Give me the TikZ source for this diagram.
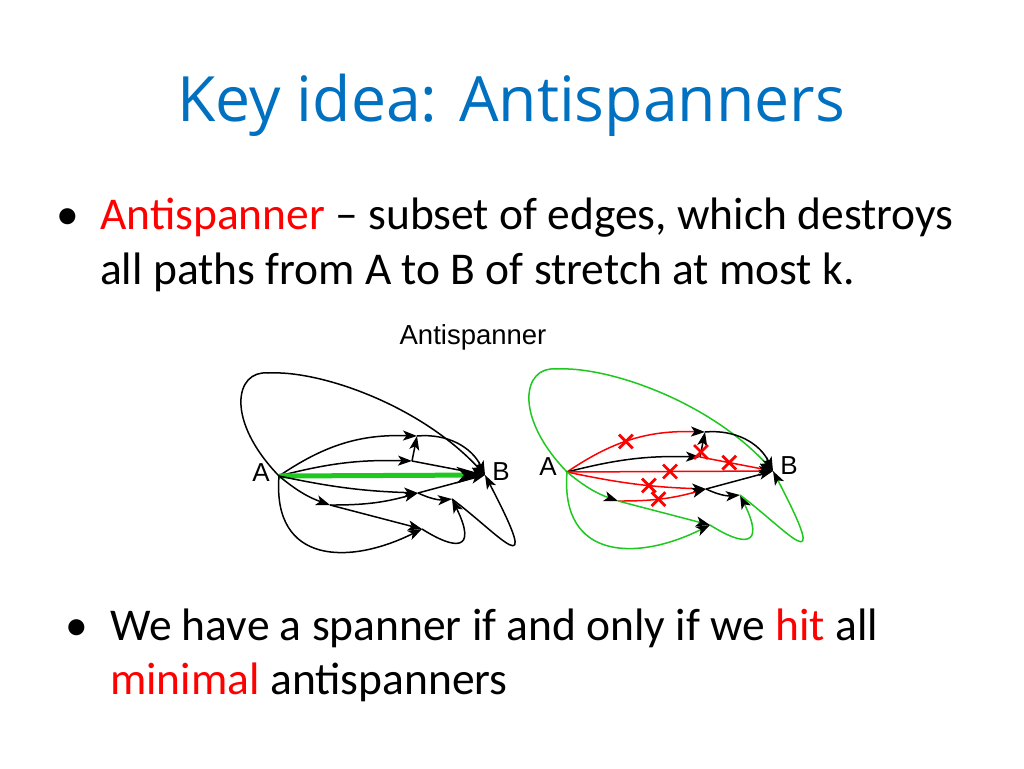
\documentclass[tikz,border=0pt]{standalone}
\usepackage{fontspec}
\setmainfont{Carlito}
\newfontfamily\titlefont{Open Sans}
\newfontfamily\graphfont{Liberation Sans}
\usetikzlibrary{arrows.meta, positioning, shapes.misc}
\definecolor{titleblue}{RGB}{0,112,192}
\definecolor{cutred}{RGB}{255,0,0}
\definecolor{pathgreen}{RGB}{30,200,30}
\newcommand*{\bodysize}{\fontsize{45.5}{55}\selectfont}

\begin{document}
\begin{tikzpicture}[x=1pt,y=-1pt,
      link/.style={line width=1.5pt, -{Stealth[color=black,length=14pt,width=10pt,inset=3.5pt]}},
      cutlink/.style={link, draw=cutred},
      keptlink/.style={link, draw=pathgreen},
      cutmark/.style={cross out, draw=cutred, line width=2.8pt, minimum size=11pt, inner sep=0pt},
      vlabel/.style={font=\graphfont\fontsize{26}{26}\selectfont},
      textline/.style={anchor=base west, inner sep=0pt, font=\bodysize}]
      \useasboundingbox (0,0) rectangle (1024,768);

      % slide text
      \node[anchor=base, inner sep=0pt, text=titleblue, font=\titlefont\fontsize{62.5}{70}\selectfont]
        (title) at (511,121) {Key idea: Antispanners};
      \node[anchor=base, inner sep=0pt, font=\bodysize] (dot1) at (68,229) {•};
      \node[textline] (line1) at (100,229) {\textcolor{cutred}{Antispanner} – subset of edges, which destroys};
      \node[textline] (line2) at (100,284) {all paths from A to B of stretch at most k.};
      \node[anchor=base, inner sep=0pt, font=\bodysize] (dot2) at (77,640) {•};
      \node[textline] (line3) at (110,640) {We have a spanner if and only if we \textcolor{cutred}{hit} all};
      \node[textline] (line4) at (110,694) {\textcolor{cutred}{minimal} antispanners};
      \node[anchor=base, inner sep=0pt, font=\graphfont\fontsize{27.5}{28}\selectfont]
        (caption) at (473,344) {Antispanner};

      % left graph
      \coordinate (A) at (279,476);
      \coordinate (B) at (485,475);
      \coordinate (P1) at (417,436);
      \coordinate (P2) at (412,461);
      \coordinate (P3) at (418,493);
      \coordinate (P4) at (330,505);
      \coordinate (P5) at (452,499);
      \coordinate (P6) at (422,529);
      \node[vlabel] (labA) at (261,473) {A};
      \node[vlabel] (labB) at (501,472) {B};
      \draw[link] (A) .. controls (225,420) and (235,370) .. (268,373)
        .. controls (320,370) and (420,405) .. (B);
      \draw[link] (A) to[bend left=18] (P1);
      \draw[link] (P1) to[bend left=35] (B);
      \draw[link] (A) to[bend left=8] (P2);
      \draw[link] (P2) -- (P1);
      \draw[link] (P2) -- (B);
      \draw[line width=5pt, pathgreen, -{Stealth[color=black,length=28pt,width=16pt,inset=7pt]}] (A) -- (B);
      \draw[link] (A) to[bend right=5] (P3);
      \draw[link] (P3) -- (B);
      \draw[link] (P3) to[bend right=15] (P5);
      \draw[link] (A) to[bend right=10] (P4);
      \draw[link] (P4) to[bend right=8] (P3);
      \draw[link] (P4) -- (P6);
      \draw[link] (A) .. controls (272,565) and (350,565) .. (P6);
      \draw[link] (P6) .. controls (455,550) and (478,552) .. (P5);
      \draw[link] (P5) .. controls (500,535) and (545,590) .. (B);

      % right graph
      \begin{scope}[shift={(288,-4)}]
        \coordinate (rA) at (279,476);
        \coordinate (rB) at (485,475);
        \coordinate (rP1) at (417,436);
        \coordinate (rP2) at (412,461);
        \coordinate (rP3) at (418,493);
        \coordinate (rP4) at (330,505);
        \coordinate (rP5) at (452,499);
        \coordinate (rP6) at (422,529);
        \node[vlabel] (rlabA) at (260,471) {A};
        \node[vlabel] (rlabB) at (501,470) {B};
        \draw[keptlink] (rA) .. controls (225,420) and (235,370) .. (268,373)
          .. controls (320,370) and (420,405) .. (rB);
        \draw[cutlink] (rA) to[bend left=18] node[cutmark, pos=0.45] (rx1) {} (rP1);
        \draw[link] (rP1) to[bend left=35] (rB);
        \draw[link] (rA) to[bend left=8] (rP2);
        \draw[link] (rP2) -- node[cutmark, pos=0.2] (rx2) {} (rP1);
        \draw[cutlink] (rP2) -- node[cutmark, pos=0.4] (rx3) {} (rB);
        \draw[cutlink] (rA) -- node[cutmark, pos=0.5] (rx4) {} (rB);
        \draw[cutlink] (rA) to[bend right=5] node[cutmark, pos=0.6] (rx5) {} (rP3);
        \draw[link] (rP3) -- (rB);
        \draw[link] (rP3) to[bend right=15] (rP5);
        \draw[keptlink] (rA) to[bend right=10] (rP4);
        \draw[cutlink] (rP4) to[bend right=8] node[cutmark, pos=0.45] (rx6) {} (rP3);
        \draw[keptlink] (rP4) -- (rP6);
        \draw[keptlink] (rA) .. controls (272,565) and (350,565) .. (rP6);
        \draw[keptlink] (rP6) .. controls (455,550) and (478,552) .. (rP5);
        \draw[keptlink] (rP5) .. controls (500,535) and (545,590) .. (rB);
      \end{scope}
    \end{tikzpicture}
\end{document}
